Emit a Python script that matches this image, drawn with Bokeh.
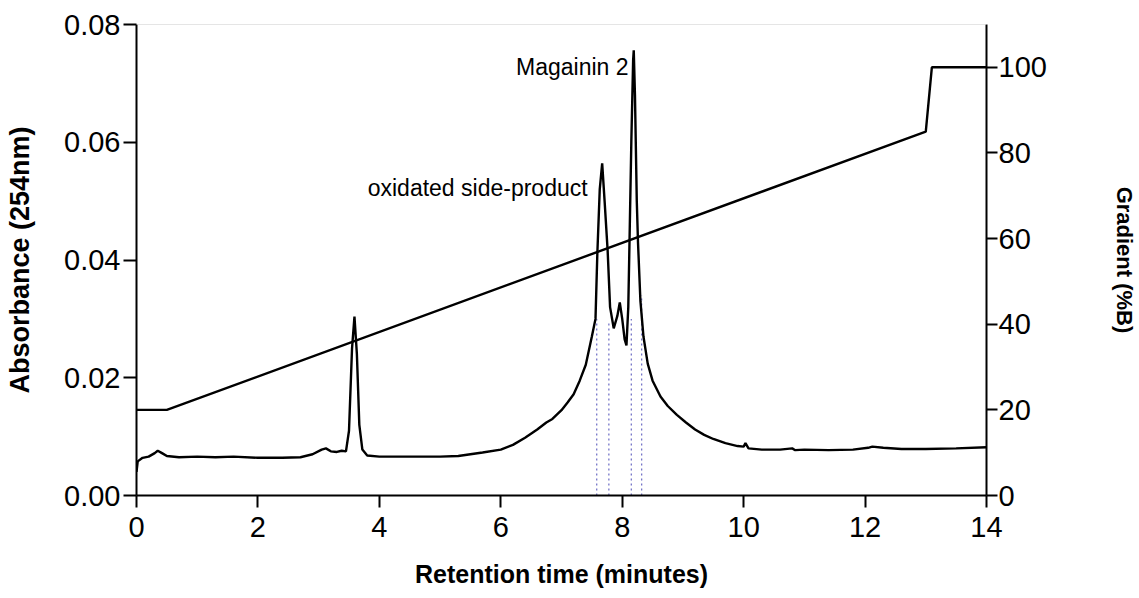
from bokeh.plotting import figure
from bokeh.models import Range1d, LinearAxis, FixedTicker, PrintfTickFormatter, Span, ColumnDataSource
from bokeh.core.properties import value
from bokeh.embed import file_html
from bokeh.resources import INLINE

# ---- data ----
time_min = [0.00, 0.02, 0.10, 0.20, 0.30, 0.35, 0.42, 0.50, 0.70, 1.00, 1.30, 1.60, 2.00, 2.40,
            2.70, 2.90, 3.05, 3.12, 3.20, 3.30, 3.38, 3.45, 3.50, 3.55, 3.59, 3.63, 3.67, 3.72,
            3.80, 4.00, 4.50, 5.00, 5.30, 5.50, 5.70, 6.00, 6.20, 6.40, 6.60, 6.75, 6.85, 7.00,
            7.10, 7.20, 7.30, 7.40, 7.50, 7.56, 7.59, 7.63, 7.67, 7.71, 7.76, 7.80, 7.86, 7.92,
            7.96, 8.00, 8.04, 8.07, 8.10, 8.12, 8.15, 8.18, 8.19, 8.21, 8.24, 8.26, 8.30, 8.35,
            8.42, 8.50, 8.63, 8.75, 8.90, 9.05, 9.20, 9.35, 9.50, 9.70, 9.90, 10.00, 10.03, 10.08,
            10.30, 10.60, 10.80, 10.85, 11.00, 11.40, 11.80, 12.05, 12.12, 12.30, 12.60, 13.00,
            13.50, 14.00]
absorbance = [0.0040, 0.0058, 0.0064, 0.0066, 0.0072, 0.0076, 0.0072, 0.0067, 0.0065, 0.0066,
              0.0065, 0.0066, 0.0064, 0.0064, 0.0065, 0.0070, 0.0078, 0.0080, 0.0075, 0.0074,
              0.0076, 0.0075, 0.0110, 0.0250, 0.0304, 0.0240, 0.0120, 0.0078, 0.0068, 0.0066,
              0.0066, 0.0066, 0.0067, 0.0070, 0.0073, 0.0078, 0.0086, 0.0098, 0.0112, 0.0124,
              0.0130, 0.0145, 0.0158, 0.0172, 0.0195, 0.0222, 0.0270, 0.0300, 0.0410, 0.0520,
              0.0564, 0.0500, 0.0416, 0.0320, 0.0284, 0.0305, 0.0328, 0.0300, 0.0265, 0.0255,
              0.0320, 0.0430, 0.0600, 0.0740, 0.0756, 0.0680, 0.0500, 0.0430, 0.0330, 0.0270,
              0.0224, 0.0195, 0.0168, 0.0152, 0.0137, 0.0124, 0.0112, 0.0103, 0.0096, 0.0089,
              0.0084, 0.0083, 0.0089, 0.0080, 0.0078, 0.0078, 0.0080, 0.0077, 0.0078, 0.0077,
              0.0078, 0.0081, 0.0083, 0.0081, 0.0079, 0.0079, 0.0080, 0.0082]

grad_time = [0.0, 0.5, 13.0, 13.1, 14.0]
grad_pctB = [20, 20, 85, 100, 100]

frac_x = [7.58, 7.78, 8.15, 8.32]
frac_top = [0.0300, 0.0295, 0.0300, 0.0340]

ann_text = ["Magainin 2", "oxidated side-product"]
ann_x = [8.105, 7.43]
ann_y = [0.0727, 0.0523]

x_ticks = [0, 2, 4, 6, 8, 10, 12, 14]
abs_ticks = [0.00, 0.02, 0.04, 0.06, 0.08]
grad_ticks = [0, 20, 40, 60, 80, 100]

FONT = "Liberation Sans"

p = figure(width=1139, height=598, x_range=Range1d(0, 14), y_range=Range1d(0, 0.08),
           output_backend="svg", toolbar_location=None,
           min_border_left=136, min_border_right=153, min_border_top=24, min_border_bottom=103)
p.extra_y_ranges = {"grad": Range1d(0, 110)}
p.xgrid.visible = False
p.ygrid.visible = False
p.outline_line_color = None
p.background_fill_color = "white"
p.border_fill_color = "white"

def style_axis(ax, tick_len):
    ax.axis_line_color = "black"
    ax.axis_line_width = 2
    ax.major_tick_line_color = "black"
    ax.major_tick_line_width = 2
    ax.major_tick_out = tick_len
    ax.major_tick_in = 0
    ax.minor_tick_line_color = None
    ax.major_label_text_font = FONT
    ax.major_label_text_font_size = "29px"
    ax.major_label_text_color = "black"
    ax.axis_label_text_font = FONT
    ax.axis_label_text_font_style = "bold"
    ax.axis_label_text_color = "black"

xa = p.xaxis[0]
style_axis(xa, 12)
xa.ticker = FixedTicker(ticks=x_ticks)
xa.major_label_standoff = 9
xa.axis_label = "Retention time (minutes)"
xa.axis_label_text_font_size = "25px"
xa.axis_label_standoff = 20

ya = p.yaxis[0]
style_axis(ya, 13)
ya.ticker = FixedTicker(ticks=abs_ticks)
ya.formatter = PrintfTickFormatter(format="%.2f")
ya.major_label_standoff = 3
ya.axis_label = "Absorbance (254nm)"
ya.axis_label_text_font_size = "27px"
ya.axis_label_standoff = 26

ra = LinearAxis(y_range_name="grad")
style_axis(ra, 11)
ra.ticker = FixedTicker(ticks=grad_ticks)
ra.major_label_standoff = 1
ra.axis_label = "Gradient (%B)"
ra.axis_label_text_font_size = "22px"
ra.axis_label_standoff = 62
p.add_layout(ra, "right")

p.add_layout(Span(location=0.08, dimension="width", line_color="#cccccc", line_width=1))

p.segment(x0=frac_x, y0=[0] * len(frac_x), x1=frac_x, y1=frac_top,
          line_color="#7474c8", line_width=1.3, line_dash="2 3")

p.line(grad_time, grad_pctB, y_range_name="grad", line_color="black", line_width=2.4)
p.line(time_min, absorbance, line_color="black", line_width=2.4)

src = ColumnDataSource(dict(x=ann_x, y=ann_y, t=ann_text))
p.text(x="x", y="y", text="t", source=src, text_align="right", text_baseline="alphabetic",
       text_font=value(FONT), text_font_size="23px", text_color="black")

open("out.html", "w").write(file_html(p, INLINE))
